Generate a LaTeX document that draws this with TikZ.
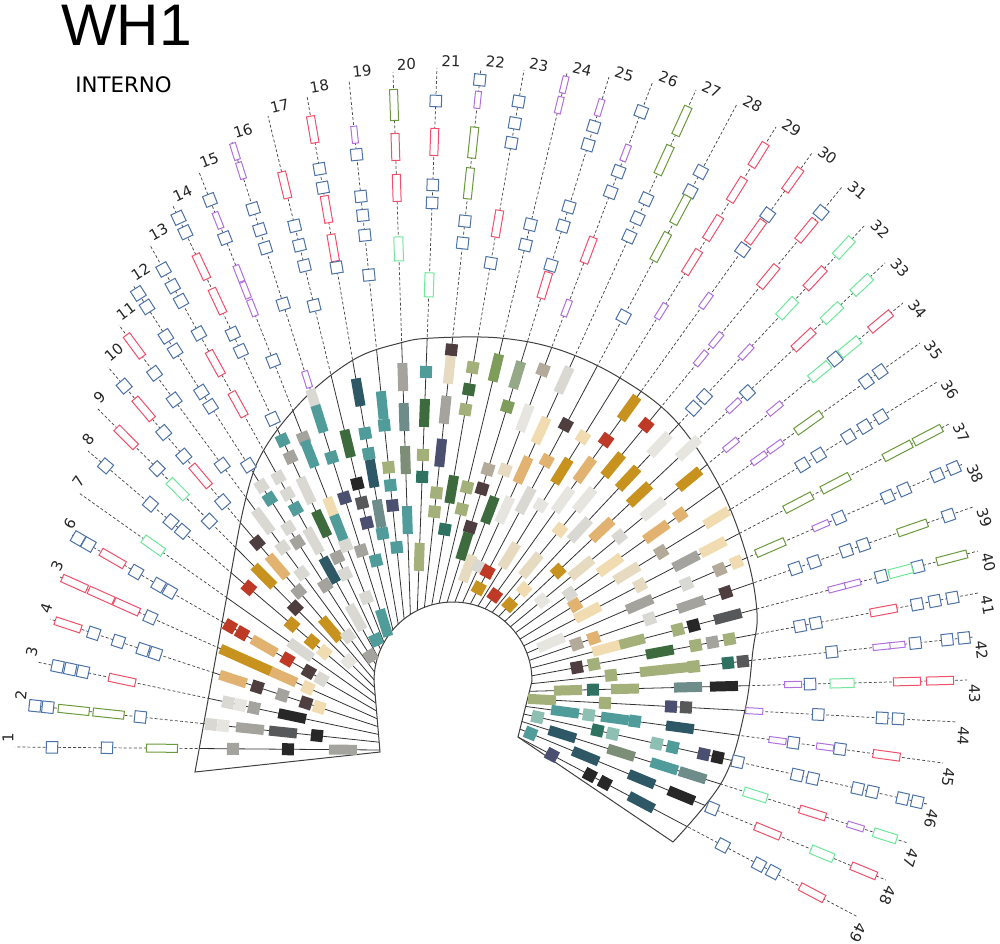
\documentclass[tikz,border=0pt]{standalone}
\usepackage{fontspec}
\setmainfont{DejaVu Sans}
\newfontfamily\titlefont{Liberation Sans}
\usetikzlibrary{calc}
\definecolor{cBlue}{HTML}{4C72A8}
\definecolor{cRed}{HTML}{F0506A}
\definecolor{cGreen}{HTML}{6B9A3C}
\definecolor{cLgreen}{HTML}{6EE89A}
\definecolor{cPurple}{HTML}{B070E0}
\definecolor{gAmb}{HTML}{C8921E}
\definecolor{gTan}{HTML}{E2B271}
\definecolor{gCre}{HTML}{F0DCB0}
\definecolor{gRed}{HTML}{BE3A26}
\definecolor{gDbr}{HTML}{4E3E3F}
\definecolor{gGry}{HTML}{A4A39E}
\definecolor{gLgr}{HTML}{D9D8D2}
\definecolor{gWht}{HTML}{E6E5E0}
\definecolor{gBlk}{HTML}{272727}
\definecolor{gDgy}{HTML}{57585A}
\definecolor{gTea}{HTML}{4F9C9A}
\definecolor{gDte}{HTML}{2E5866}
\definecolor{gSla}{HTML}{4B5070}
\definecolor{gGrn}{HTML}{7E9C5A}
\definecolor{gDgr}{HTML}{3D6B3E}
\definecolor{gOli}{HTML}{A3B07A}
\definecolor{gSag}{HTML}{95A888}
\definecolor{gBei}{HTML}{E6DAC0}
\definecolor{gMin}{HTML}{8DBFB2}
\definecolor{gJad}{HTML}{2F7262}
\definecolor{gTau}{HTML}{B3AA9A}
\definecolor{gGte}{HTML}{6E8C8A}
\definecolor{gGgr}{HTML}{7D8E78}
\def\raydata{1/380/750/15/747/1, 2/379.3/742.2/27/705/2, 3/378.6/734.4/37/662/3, 4/378/726.6/50/619/4, 5/377.3/718.8/60/577/3, 6/376.6/711/72/535/6, 7/375.9/703.2/79/493/7, 8/375.3/695.4/88/451/8, 9/374.6/687.6/98/409/9, 10/374/679.8/108/367/10, 11/374.5/672/119/325/11, 12/375.8/664.3/133/285/12, 13/377.8/656.8/150/245/13, 14/380.6/649.5/173/206/14, 15/384/642.5/199/172/15, 16/388.2/635.9/232/142/16, 17/392.9/629.7/268/116/17, 18/398.2/624.1/307/96/18, 19/404.1/618.9/349/80/19, 20/410.4/614.5/393/72/20, 21/417.3/610.5/437/68/21, 22/424.4/607.4/481/68/22, 23/431.8/604.9/524/70/23, 24/439.1/603.2/567/73/24, 25/447.1/602.2/609/77/25, 26/454.9/602/653/81/26, 27/462.6/602.6/696/90/27, 28/470.4/603.9/737/104/28, 29/478/606/776/127/29, 30/485.1/608.8/812/153/30, 31/492.1/612.4/842/187/31, 32/498.7/616.5/865/225/32, 33/504.8/621.4/885/263/33, 34/510.4/626.7/903/303/34, 35/515.5/632.7/920/343/35, 36/520/639.1/937/382/36, 37/523.8/645.9/949/424/37, 38/526.9/653.1/963/464/38, 39/529.3/660.4/973/507/39, 40/530.9/668.1/978/551/40, 41/531.8/675.8/978/593/41, 42/531.3/683.7/973/637/42, 43/529.4/691.3/967/680/43, 44/527.5/698.8/957/722/44, 45/525.6/706.4/943/763/45, 46/523.7/714/927/804/46, 47/521.8/721.5/908/843/47, 48/520/729.1/886/880/48, 49/518/737/858/917/49}
\begin{document}
\begin{tikzpicture}[x=0.75pt,y=-0.75pt,
  dashray/.style={draw=black!72, line width=0.55pt, dash pattern=on 2.2pt off 1.6pt},
  solidray/.style={draw=black!80, line width=0.6pt},
  collar/.style={draw=black!75, line width=0.75pt},
  collarpath/.style={insert path={(195,772) -- (237,540) -- plot[smooth,tension=0.6] coordinates {(237,540) (257,463) (300,403) (353,360) (400,343) (433,338) (500,338) (560,350) (620,378) (675,420) (720,487) (747,557) (757,613) (753,650) (745,710) (723,780) (673,842)} -- (518,737) -- (532,681) arc[start angle=360, end angle=180, radius=79] -- (380,752) -- cycle}},
  oshape/.style={rectangle, fill=white, line width=0.75pt, inner sep=0pt},
  oshB/.style={oshape, draw=cBlue, minimum width=8.6pt, minimum height=8.6pt},
  oshR/.style={oshape, draw=cRed, minimum width=20.25pt, minimum height=6pt},
  oshG/.style={oshape, draw=cGreen, minimum width=23.25pt, minimum height=6pt},
  oshL/.style={oshape, draw=cLgreen, minimum width=18pt, minimum height=6.75pt},
  oshP/.style={oshape, draw=cPurple, minimum width=12.75pt, minimum height=4.5pt},
  gemS/.style={rectangle, inner sep=0pt, minimum width=9pt, minimum height=9pt},
  gemL/.style={rectangle, inner sep=0pt, minimum width=21pt, minimum height=7.5pt},
  lab/.style={anchor=south west, inner xsep=3pt, inner ysep=1pt, font=\fontsize{11.2pt}{12pt}\selectfont, text=black!85},
]
\useasboundingbox (0,0) rectangle (1000,943);
% ray end points
\foreach \kk/\sx/\sy/\tx/\ty/\lbl in \raydata {
  \coordinate (S\kk) at (\sx,\sy);
  \coordinate (T\kk) at (\tx,\ty);
}
\foreach \kk in {1,...,49} {
  \pgfmathanglebetweenpoints{\pgfpointanchor{S\kk}{center}}{\pgfpointanchor{T\kk}{center}}
  \expandafter\xdef\csname ra\kk\endcsname{\pgfmathresult}
}
% dashed rays
\foreach \kk in {1,...,49} \draw[dashray] (S\kk) -- (T\kk);
% inner solid part
\begin{scope}
  \clip[collarpath];
  \fill[white, collarpath];
  \foreach \kk in {1,...,49} \draw[solidray] (S\kk) -- (T\kk);
\end{scope}
\draw[collar, collarpath];
% outer outline shapes (distance from outer tip, px)
\foreach \kk/\dd/\tp [count=\i] in {
1/37/B,1/92/B,1/147/G,
2/8/B,2/21/B,2/47/G,2/82/G,2/114/B,
3/21/B,3/34/B,3/47/B,3/87/R,
4/19/R,4/46/B,4/72/B,4/98/B,4/111/B,
5/16/R,5/45/R,5/73/R,5/99/B,
6/7/B,6/19/B,6/47/R,6/74/B,6/100/B,6/113/B,
7/91/L,
8/23/B,8/82/B,8/109/B,8/124/B,
9/40/R,9/84/B,9/113/L,9/158/B,
10/25/B,10/55/R,10/86/B,10/117/B,10/143/R,10/177/B,
11/26/R,11/60/B,11/93/B,11/174/B,
12/10/B,12/26/B,12/61/B,12/78/B,12/127/B,12/144/B,12/214/B,
13/28/B,13/47/B,13/64/B,13/101/B,13/135/R,13/182/R,
14/13/B,14/29/B,14/67/R,14/105/R,14/141/B,14/160/B,14/235/B,
15/30/B,15/52/P,15/71/B,15/109/P,15/127/P,15/146/P,15/203/B,
16/10/P,16/30/P,16/70/B,16/92/B,16/111/B,16/170/B,16/249/P,
17/71/R,17/113/B,17/133/B,17/154/B,17/195/B,
18/34/R,18/74/B,18/93/B,18/115/R,18/154/R,18/174/B,
19/55/P,19/75/B,19/117/B,19/136/B,19/156/B,19/196/B,
20/33/G,20/75/R,20/116/R,20/177/L,
21/33/B,21/74/R,21/117/B,21/135/B,21/217/L,
22/12/B,22/32/P,22/75/G,22/116/G,22/154/B,22/176/B,
23/32/B,23/54/B,23/74/B,23/156/R,23/196/B,
24/12/P,24/33/P,24/156/B,24/177/B,
25/32/P,25/52/B,25/71/B,25/136/B,25/156/B,25/197/B,25/218/R,
26/33/B,26/77/P,26/97/B,26/119/B,26/181/R,26/243/P,
27/34/G,27/77/G,27/120/B,27/141/B,27/161/B,
28/77/B,28/99/B,28/120/G,28/162/G,28/241/B,
29/33/R,29/74/R,29/119/R,29/159/R,29/217/P,
30/33/R,30/76/B,30/97/R,30/119/B,30/182/P,
31/33/B,31/56/R,31/116/R,31/198/P,31/222/P,
32/31/L,32/73/R,32/114/L,32/174/P,32/235/B,32/251/B,
33/32/L,33/73/L,33/112/R,33/189/B,33/208/P,
34/29/R,34/69/L,34/88/B,34/108/L,34/166/P,34/223/P,
35/49/B,35/66/B,35/137/G,35/178/P,35/198/P,
36/66/B,36/85/B,36/104/B,36/139/B,36/158/B,
37/24/G,37/58/G,37/128/G,37/170/G,
38/10/B,38/28/B,38/64/B,38/82/B,38/135/B,38/155/P,38/210/G,
39/26/B,39/64/G,39/116/B,39/134/B,39/168/B,39/188/B,
40/27/G,40/62/B,40/80/L,40/100/B,40/130/P,40/146/P,
41/26/B,41/44/B,41/62/B,41/96/R,41/165/B,41/181/B,
42/9/B,42/26/B,42/58/B,42/77/P,42/92/P,42/142/B,
43/27/R,43/60/R,43/125/L,43/157/B,43/174/P,
44/59/B,44/75/B,44/139/B,44/203/P,
45/57/R,45/104/B,45/119/P,45/151/B,45/167/P,
46/10/B,46/25/B,46/56/B,46/71/B,46/117/B,46/133/B,46/194/B,
47/24/L,47/55/P,47/100/R,47/160/L,
48/24/R,48/69/L,48/128/R,48/188/B,
49/52/R,49/96/B,49/112/B,49/153/B} {
  \edef\ang{\csname ra\kk\endcsname}
  \node[osh\tp, rotate=\ang] (os\i) at ($(T\kk)!\dd*0.75pt!(S\kk)$) {};
}
% inner stones (projected on their ray)
\foreach \kk/\xx/\yy/\tp/\cc [count=\i] in {
1/233/747/S/gGry,1/288/747/S/gBlk,1/343/747/L/gGry,
2/211/724/S/gLgr,2/223/727/S/gWht,2/250/728/L/gGry,2/283/732/L/gDgy,2/317/735/S/gBlk,
3/228/703/S/gLgr,3/240/706/S/gWht,3/254/708/S/gGry,3/292/717/L/gBlk,
4/233/679/L/gTan,4/257/688/S/gDbr,4/282/696/S/gGry,4/306/703/S/gDbr,4/319/708/S/gCre,
5/232/657/L/gAmb,5/258/667/L/gAmb,5/283/678/L/gTan,5/307/690/S/gCre,
6/229/628/S/gRed,6/241/635/S/gRed,6/263/648/L/gTan,6/286/662/S/gRed,6/307/675/S/gDbr,6/320/682/S/gLgr,
7/302/648/L/gLgr,
8/247/590/S/gRed,8/290/627/S/gAmb,8/310/644/S/gAmb,8/322/655/S/gCre,
9/262/578/L/gAmb,9/293/610/S/gDbr,9/347/663/S/gWht,
10/257/543/S/gDbr,10/277/567/L/gTan,10/298/592/S/gGry,10/330/630/L/gAmb,
11/262/522/L/gLgr,11/282/548/S/gLgr,11/302/573/S/gLgr,11/347/637/S/gLgr,
12/263/485/S/gLgr,12/271/498/S/gTea,12/288/528/S/gLgr,12/298/542/S/gGry,12/326/585/S/gGry,12/372/655/S/gGry,
13/279/477/S/gLgr,13/289/493/S/gLgr,13/297/508/S/gTea,13/315/540/L/gLgr,13/330/570/L/gDte,13/357/617/L/gLgr,
14/283/440/S/gTea,14/291/457/S/gGry,14/307/490/L/gLgr,14/323/523/L/gDgr,14/338/557/S/gGry,14/347/573/S/gLgr,14/380/638/S/gTea,
15/306/437/S/gGry,15/312/453/L/gTea,15/334/510/L/gCre,15/342/527/L/gTea,15/347/545/S/gLgr,15/368/597/S/gLgr,
16/317/402/L/gLgr,16/322/418/L/gTea,16/333/457/S/gTea,16/347/497/S/gSla,16/363/550/S/gGry,16/387/622/L/gTea,
17/350/443/L/gDgr,17/360/483/S/gBlk,17/365/502/S/gDgy,17/370/522/S/gSla,17/378/560/S/gTea,
18/360/392/L/gDte,18/367/433/S/gTea,18/372/453/S/gTea,18/375/473/L/gDte,18/382/513/L/gGte,18/385/533/S/gTea,
19/384/405/L/gTea,19/387/425/S/gTea,19/392/467/S/gOli,19/393/485/S/gTea,19/397/505/S/gSla,19/400/547/S/gTea,
20/404/377/L/gGry,20/407/417/L/gGte,20/407/460/L/gGgr,20/410/520/L/gTea,
21/428/372/S/gTea,21/427/413/L/gDgr,21/425/455/S/gOli,21/425/477/S/gJad,21/423/557/L/gOli,
22/453/350/S/gDbr,22/451/370/L/gBei,22/447/410/L/gGry,22/442/453/L/gSla,22/438/493/S/gOli,22/437/512/S/gOli,
23/475/368/S/gOli,23/472/390/S/gDgr,23/468/410/S/gOli,23/455/490/L/gDgr,23/448/530/S/gJad,
24/497/368/L/gGrn,24/470/488/S/gOli,24/465/510/S/gOli,
25/517/375/L/gSag,25/512/408/S/gGrn,25/490/470/S/gTau,25/486/490/S/gDbr,25/473/528/S/gDbr,25/467/547/L/gDgr,
26/543/370/S/gTau,26/530/420/L/gWht,26/505/470/S/gBei,26/490/510/L/gDgr,26/472/570/L/gBei,
27/564/380/L/gLgr,27/540/430/L/gCre,27/523/470/L/gTan,27/505/510/L/gWht,27/482/568/S/gLgr,
28/566/425/S/gDbr,28/545/460/S/gTan,28/525/500/L/gLgr,28/490/573/S/gRed,28/482/590/S/gAmb,
29/581/436/S/gCre,29/560/470/L/gAmb,29/540/505/S/gWht,29/513/558/L/gBei,
30/629/408/L/gAmb,30/606/440/S/gRed,30/585/470/L/gTan,30/563/500/L/gWht,30/497/597/S/gRed,
31/646/425/S/gRed,31/613/465/L/gAmb,31/585/500/L/gWht,31/560/530/S/gCre,31/533/567/L/gBei,
32/660/445/L/gWht,32/630/480/L/gAmb,32/580/530/L/gLgr,32/527/592/S/gCre,32/512/607/S/gAmb,
33/692/452/L/gWht,33/640/495/L/gAmb,33/602/530/L/gTan,33/560/573/S/gAmb,
34/690/480/L/gAmb,34/650/505/L/gWht,34/620/537/S/gLgr,34/583/570/L/gBei,34/543/602/S/gWht,
35/682/517/S/gTan,35/655/530/L/gTan,35/610/565/L/gCre,35/567/590/S/gLgr,
36/715/515/L/gCre,36/660/550/S/gTau,36/625/570/L/gBei,36/575/605/S/gTan,
37/713/547/L/gCre,37/687/563/L/gGry,37/640/585/S/gBei,37/590/617/L/gCre,
38/737/563/S/gCre,38/720/570/S/gTau,38/687/585/S/gLgr,38/640/605/L/gGry,38/552/645/L/gWht,
39/726/593/S/gDbr,39/693/610/L/gGry,39/650/620/S/gLgr,39/595/642/S/gTan,39/577/645/S/gTau,
40/728/617/L/gDgy,40/694/627/S/gBlk,40/678/630/S/gOli,40/632/645/L/gOli,40/606/648/L/gCre,
41/730/642/S/gOli,41/713/645/S/gGry,41/696/647/S/gOli,41/660/653/L/gDgr,41/594/665/S/gOli,41/577/668/S/gDbr,
42/743/662/S/gDgy,42/728/663/S/gJad,42/694/668/S/gOli,42/677/669/L/gOli,42/654/671/L/gOli,42/611/675/S/gOli,
43/724/687/L/gBlk,43/688/687/L/gGte,43/625/689/L/gOli,43/593/690/S/gJad,43/568/690/L/gOli,
44/686/707/S/gDgy,44/671/706/S/gSla,44/605/703/S/gOli,44/542/699/L/gOli,
45/680/727/L/gDte,45/635/720/S/gTea,45/615/718/L/gTea,45/589/713/S/gMin,45/565/712/L/gTea,
46/718/756/S/gBlk,46/704/753/S/gSla,46/673/746/S/gTea,46/657/742/S/gMin,46/613/732/S/gMin,46/598/728/S/gJad,46/538/715/S/gMin,
47/693/774/L/gGte,47/665/764/L/gTea,47/622/750/L/gGgr,47/563/732/L/gDte,
48/682/794/L/gBlk,48/643/776/L/gDte,48/587/753/L/gDte,48/532/730/S/gTea,
49/643/799/L/gDte,49/607/779/S/gBlk,49/592/771/S/gBlk,49/554/751/S/gSla} {
  \edef\ang{\csname ra\kk\endcsname}
  \node[gem\tp, fill=\cc, rotate=\ang] (st\i) at ($(S\kk)!(\xx,\yy)!(T\kk)$) {};
}
% ray numbers
\foreach \kk/\sx/\sy/\tx/\ty/\lbl in \raydata {
  \pgfmathsetmacro\la{\csname ra\kk\endcsname-90}
  \node[lab, rotate=\la] (lab\kk) at (T\kk) {\lbl};
}
% titles
\node[anchor=base west, inner sep=0pt, font=\titlefont\fontsize{44pt}{44pt}\selectfont] (title) at (61,45) {WH1};
\node[anchor=base west, inner sep=0pt, font=\fontsize{16pt}{16pt}\selectfont] (subtitle) at (75,92) {INTERNO};
\end{tikzpicture}
\end{document}
